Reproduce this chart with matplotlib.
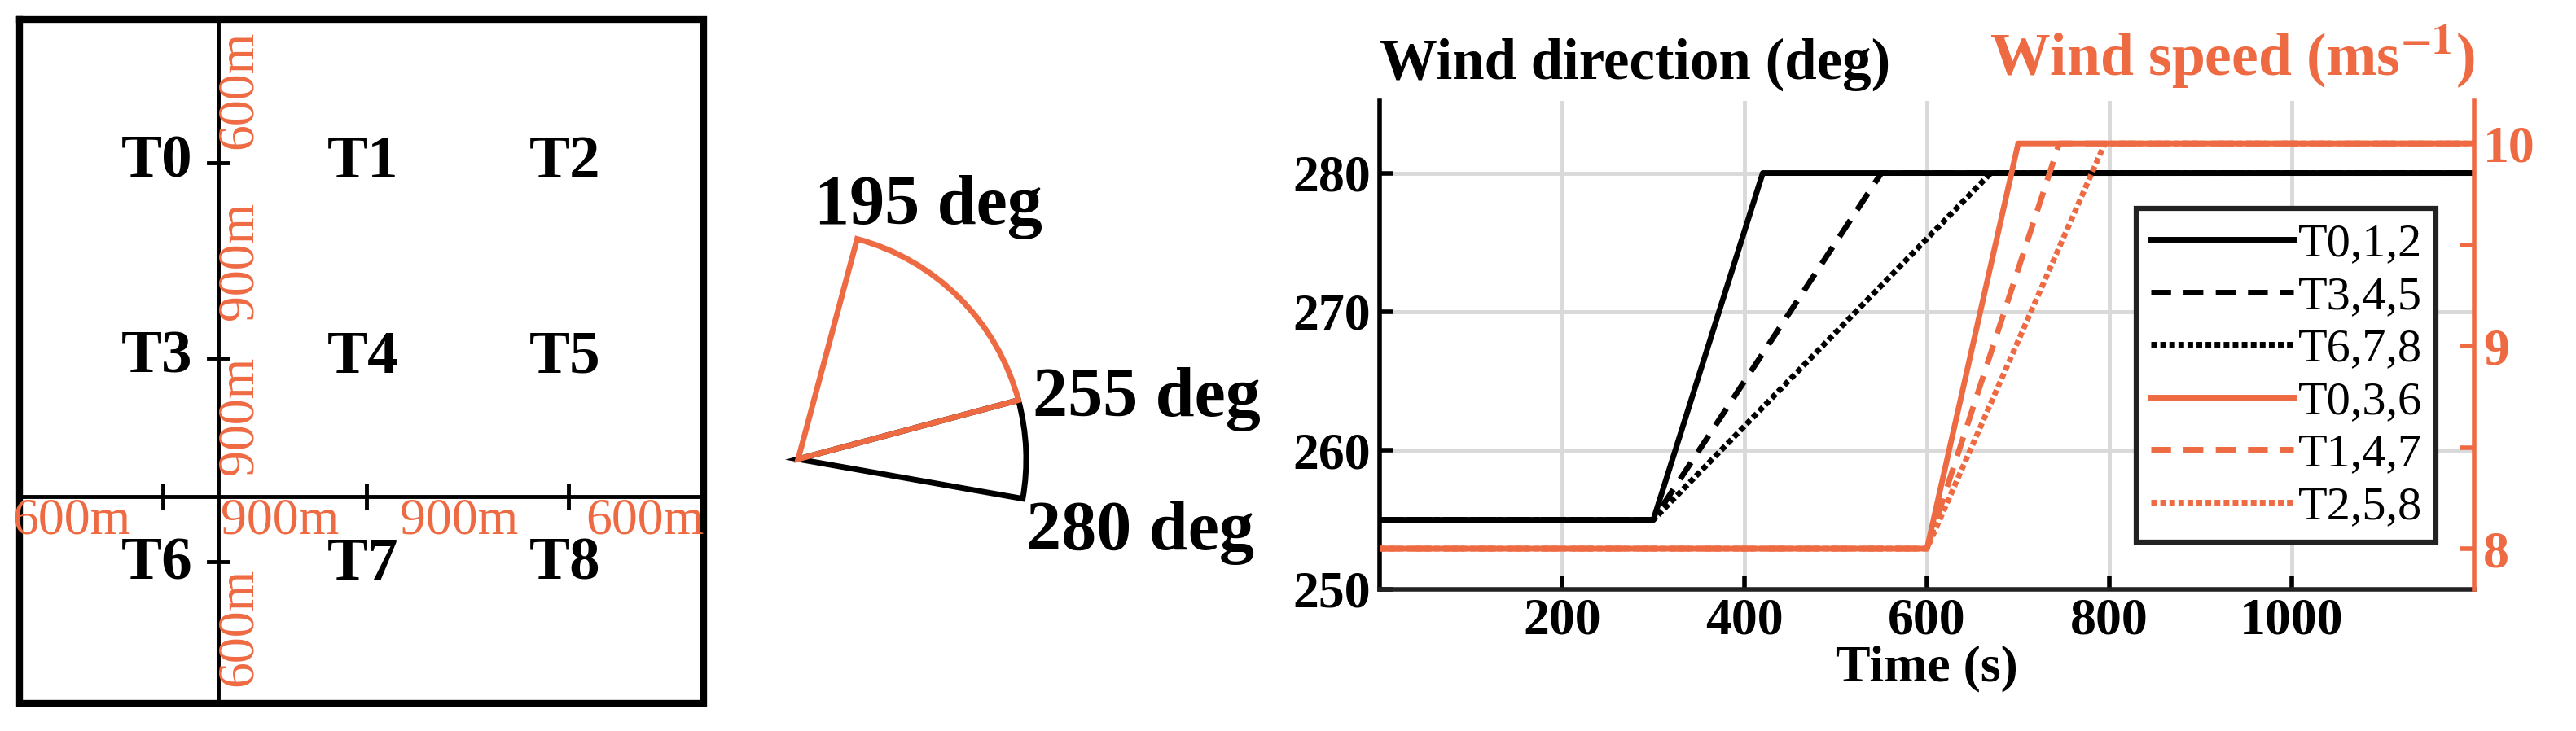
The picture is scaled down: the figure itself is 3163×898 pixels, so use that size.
import numpy as np
import matplotlib.pyplot as plt
from matplotlib.patches import Wedge

plt.rcParams['font.family'] = ['Liberation Serif', 'DejaVu Serif']
plt.rcParams['mathtext.fontset'] = 'stix'

ORANGE = '#EE6A42'

# layout sketch data (display units, half of output pixels)
turbine_names = [['T0', 'T1', 'T2'], ['T3', 'T4', 'T5'], ['T6', 'T7', 'T8']]
turbine_x = [100, 225, 349]
turbine_y = [100, 220, 347]
vert_labels = ['600m', '900m', '900m', '600m']
vert_label_y = [55, 160, 255, 385]
horz_labels = ['600m', '900m', '900m', '600m']
horz_label_x = [44, 172, 282, 396]

# wind direction sector
dir_start = 195
dir_mid = 255
dir_end = 280

# time series
time = [0, 300, 420, 1200]
dir_t012 = [255, 255, 280, 280]
time_t345 = [0, 300, 550, 1200]
dir_t345 = [255, 255, 280, 280]
time_t678 = [0, 300, 670, 1200]
dir_t678 = [255, 255, 280, 280]
time_t036 = [0, 600, 700, 1200]
spd_t036 = [8, 8, 10, 10]
time_t147 = [0, 600, 745, 1200]
spd_t147 = [8, 8, 10, 10]
time_t258 = [0, 600, 795, 1200]
spd_t258 = [8, 8, 10, 10]

fig = plt.figure(figsize=(31.63, 8.98), dpi=100)

# ---- left + middle drawing ----
ax0 = fig.add_axes([0, 0, 0.5, 1])
ax0.set_xlim(0, 790.75)
ax0.set_ylim(449, 0)
ax0.axis('off')

ax0.plot([12, 432, 432, 12, 12], [12, 12, 432, 432, 12], color='black', lw=6,
         solid_joinstyle='miter')
ax0.plot([134, 134], [12, 432], color='black', lw=3.5)
ax0.plot([12, 432], [305, 305], color='black', lw=3.5)
for y in turbine_y[:2] + [345]:
    ax0.plot([128, 140], [y, y], color='black', lw=3.5)
for x in turbine_x:
    ax0.plot([x, x], [298, 312], color='black', lw=3.5)

for r, row in enumerate(turbine_names):
    for c, name in enumerate(row):
        ax0.text(turbine_x[c] + (18 if c == 0 else -2), turbine_y[r], name, fontsize=54,
                 fontweight='bold', ha='right' if c == 0 else 'center', va='center')

for lab, y in zip(vert_labels, vert_label_y):
    ax0.text(147, y, lab, rotation=90, fontsize=46, color=ORANGE, ha='center', va='center')
for lab, x in zip(horz_labels, horz_label_x):
    ax0.text(x, 320, lab, fontsize=46, color=ORANGE, ha='center', va='center')

centre = (490, 282)
radius = 140
ax0.add_patch(Wedge(centre, radius, dir_mid - 270, dir_end - 270, fill=False,
                    ec='black', lw=5))
ax0.add_patch(Wedge(centre, radius, dir_start - 270, dir_mid - 270, fill=False,
                    ec=ORANGE, lw=5))
ax0.text(500, 127, f'{dir_start} deg', fontsize=62, fontweight='bold', va='center')
ax0.text(634, 245, f'{dir_mid} deg', fontsize=62, fontweight='bold', va='center')
ax0.text(630, 327, f'{dir_end} deg', fontsize=62, fontweight='bold', va='center')

# ---- right time series ----
ax = fig.add_axes([0.5356, 0.194, 0.4249, 0.668])
ax2 = ax.twinx()

l1, = ax.plot(time, dir_t012, color='black', lw=5, label='T0,1,2')
l2, = ax.plot(time_t345, dir_t345, color='black', lw=5, ls=(0, (3.5, 2.2)), label='T3,4,5')
l3, = ax.plot(time_t678, dir_t678, color='black', lw=5, ls=(0, (1, 0.6)), label='T6,7,8')
l4, = ax2.plot(time_t036, spd_t036, color=ORANGE, lw=5, label='T0,3,6')
l5, = ax2.plot(time_t147, spd_t147, color=ORANGE, lw=5, ls=(0, (3.5, 2.2)), label='T1,4,7')
l6, = ax2.plot(time_t258, spd_t258, color=ORANGE, lw=5, ls=(0, (1, 0.6)), label='T2,5,8')

ax.set_xlim(0, 1200)
ax.set_ylim(250, 285.2)
ax2.set_ylim(7.8, 10.21)
ax.set_xticks([200, 400, 600, 800, 1000])
ax.set_yticks([250, 260, 270, 280])
ax2.set_yticks([8, 8.5, 9, 9.5, 10], ['8', '', '9', '', '10'])
ax.grid(True, color='#d9d9d9', lw=3.5)
ax.set_axisbelow(True)

for a in (ax, ax2):
    a.spines['top'].set_visible(False)
ax.spines['right'].set_visible(False)
ax.spines['left'].set_linewidth(4)
ax.spines['bottom'].set_linewidth(4)
ax.spines['bottom'].set_color('#222222')
ax2.spines['left'].set_visible(False)
ax2.spines['bottom'].set_visible(False)
ax2.spines['right'].set_color(ORANGE)
ax2.spines['right'].set_linewidth(4)
ax.tick_params(direction='in', length=12, width=4, labelsize=46, pad=8)
ax2.tick_params(direction='in', length=12, width=4, labelsize=46, colors=ORANGE, pad=8)
for t in ax.get_xticklabels() + ax.get_yticklabels() + ax2.get_yticklabels():
    t.set_fontweight('bold')
ax.set_xlabel('Time (s)', fontsize=46, fontweight='bold', labelpad=0)
ax.text(0, 1.02, 'Wind direction (deg)', transform=ax.transAxes, fontsize=51,
        fontweight='bold', ha='left', va='bottom')
ax.text(1.0, 1.02, r'Wind speed (ms$^{\mathbf{-1}}$)', transform=ax.transAxes, fontsize=53,
        fontweight='bold', color=ORANGE, ha='right', va='bottom')

leg = ax2.legend(handles=[l1, l2, l3, l4, l5, l6], loc='lower right',
                 bbox_to_anchor=(0.987, 0.047), fontsize=42, fancybox=False,
                 edgecolor='#222222', framealpha=1, handlelength=3.0,
                 handletextpad=0.1, borderpad=0.3, labelspacing=0.2)
leg.get_frame().set_linewidth(4.5)

fig.savefig('out.png', dpi=100)
